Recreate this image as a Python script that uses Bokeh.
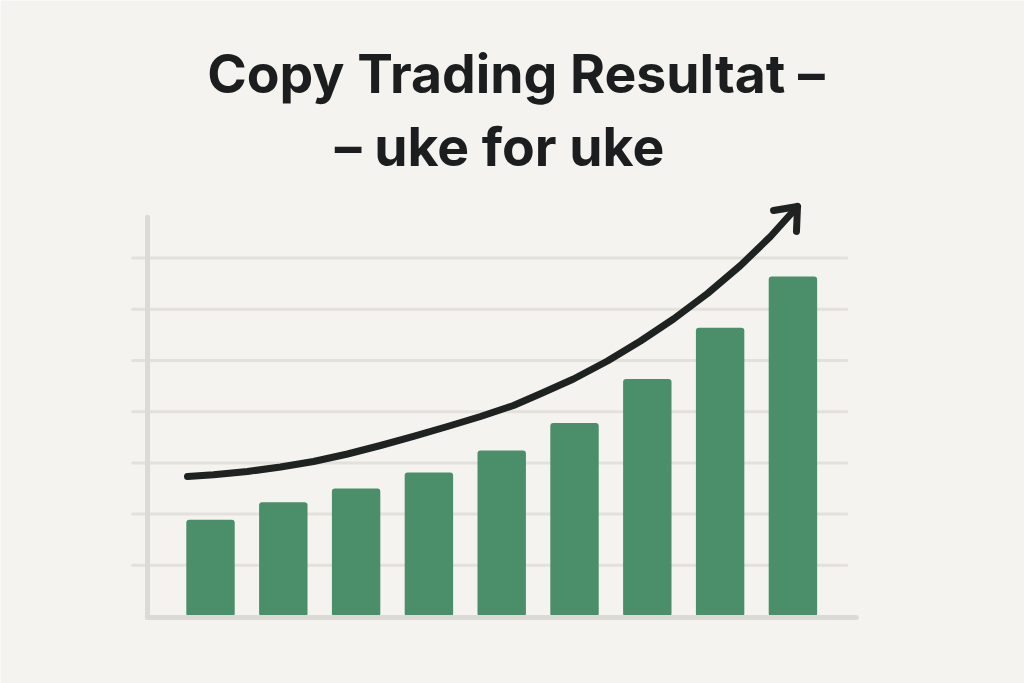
from bokeh.plotting import figure
from bokeh.models import Range1d, Label, ColumnDataSource
from bokeh.embed import file_html
from bokeh.resources import INLINE

# ---- data ----
weeks = [1, 2, 3, 4, 5, 6, 7, 8, 9]
results = [1.89, 2.23, 2.50, 2.81, 3.24, 3.78, 4.64, 5.64, 6.64]
grid_levels = [1, 2, 3, 4, 5, 6, 7]

trend_x = [0.684, 1.041, 1.508, 1.962, 2.415, 2.882, 3.335, 3.788, 4.255,
           4.709, 5.162, 5.533, 5.986, 6.453, 6.907, 7.360, 7.827, 8.280,
           8.692, 9.063]
trend_y = [2.734, 2.770, 2.832, 2.920, 3.027, 3.174, 3.340, 3.516, 3.711,
           3.906, 4.121, 4.350, 4.639, 4.990, 5.381, 5.811, 6.309, 6.855,
           7.422, 8.008]
head_x = [8.734, 9.063, 9.049]
head_y = [7.930, 8.008, 7.520]

title_lines = ["Copy Trading Resultat \u2013", "\u2013 uke for uke"]

# ---- styling ----
BG = "#f5f3ef"
BAR = "#4a8f69"
GRID = "#e3e1dc"
AXIS = "#dcdad5"
INK = "#1e2221"

W, H = 1024, 683
p = figure(width=W, height=H, output_backend="svg", toolbar_location=None,
           x_range=Range1d(-1.8846, 12.181), y_range=Range1d(-1.3086, 12.031),
           x_axis_type=None, y_axis_type=None,
           min_border=0, min_border_left=0, min_border_right=0,
           min_border_top=0, min_border_bottom=0,
           background_fill_color=BG, border_fill_color=BG,
           outline_line_color=None)

# horizontal gridlines
p.segment(x0=[-0.07] * len(grid_levels), x1=[9.74] * len(grid_levels),
          y0=grid_levels, y1=grid_levels,
          line_color=GRID, line_width=3, line_cap="round")

# bars
src = ColumnDataSource(dict(x=weeks, top=results))
p.vbar(x="x", top="top", bottom=0, width=0.665, source=src,
       fill_color=BAR, line_color=None, border_radius=3)

# y axis line and baseline
p.line(x=[0.135, 0.135], y=[7.8, -0.02], line_color=AXIS, line_width=5,
       line_cap="round")
p.line(x=[0.135, 9.87], y=[-0.02, -0.02], line_color=AXIS, line_width=5,
       line_cap="round")

# trend arrow
p.line(x=trend_x, y=trend_y, line_color=INK, line_width=7,
       line_cap="round", line_join="round")
p.line(x=head_x, y=head_y, line_color=INK, line_width=7,
       line_cap="round", line_join="round")

# title
p.add_layout(Label(x=515.5, y=610.4, x_units="screen", y_units="screen",
                   text=title_lines[0], text_font="Inter",
                   text_font_style="bold", text_font_size="53.5px",
                   text_color="#1b1d1e", text_align="center",
                   text_baseline="alphabetic"))
p.add_layout(Label(x=499, y=537.4, x_units="screen", y_units="screen",
                   text=title_lines[1], text_font="Inter",
                   text_font_style="bold", text_font_size="53.5px",
                   text_color="#1b1d1e", text_align="center",
                   text_baseline="alphabetic"))

open("out.html", "w").write(file_html(p, INLINE))
